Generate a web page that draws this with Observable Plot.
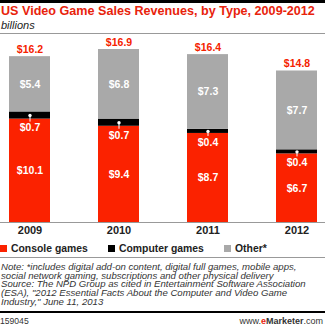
<!DOCTYPE html>
<html><head><meta charset="utf-8">
<script src="https://cdn.jsdelivr.net/npm/d3@7"></script>
<script src="https://cdn.jsdelivr.net/npm/@observablehq/plot@0.6"></script>
<style>
body{margin:0;width:325px;height:327px;position:relative;overflow:hidden;background:#fff;font-family:"Liberation Sans",Arial,sans-serif;}
.abs{position:absolute;}
#topRule{left:0;top:0;width:325px;height:3px;background:#000;}
#title{left:1px;top:4px;font-weight:bold;font-size:12.6px;color:#e8230c;white-space:nowrap;}
#sub{left:1px;top:19px;font-style:italic;font-size:11px;color:#222;}
#rule1{left:0;top:33px;width:325px;height:1px;background:#999;}
#chart{left:0;top:35px;}
#legend{left:0;top:242px;font-weight:bold;font-size:10.4px;color:#222;white-space:nowrap;}
.lg{position:absolute;top:0;display:flex;align-items:center;height:12px;}
.sw{width:7px;height:7px;margin-right:4px;}
#rule2{left:0;top:257px;width:325px;height:1px;background:#999;}
#note{left:1px;top:263px;font-style:italic;font-size:9.6px;line-height:8.7px;color:#333;white-space:pre;}
#rule3{left:0;top:311px;width:325px;height:2px;background:#000;}
#id{left:0;top:316px;font-size:8.6px;color:#333;}
#brand{right:2px;top:316px;font-size:9px;color:#333;}
</style></head><body>
<div class="abs" id="topRule"></div>
<div class="abs" id="title">US Video Game Sales Revenues, by Type, 2009-2012</div>
<div class="abs" id="sub">billions</div>
<div class="abs" id="rule1"></div>
<div class="abs" id="chart"></div>
<div class="abs" id="legend"></div>
<div class="abs" id="rule2"></div>
<div class="abs" id="note"></div>
<div class="abs" id="rule3"></div>
<div class="abs" id="id">159045</div>
<div class="abs" id="brand">www.<b style="color:#e8230c">e</b><b>Marketer</b>.com</div>
<script>
const years = ["2009", "2010", "2011", "2012"];
const consoleGames = [10.1, 9.4, 8.7, 6.7];
const computerGames = [0.7, 0.7, 0.4, 0.4];
const otherGames = [5.4, 6.8, 7.3, 7.7];
const totals = [16.2, 16.9, 16.4, 14.8];
const types = ["Console games", "Computer games", "Other*"];
const colors = ["#fb2200", "#000000", "#a9a9a9"];
const noteLines = [
  "Note: *includes digital add-on content, digital full games, mobile apps,",
  "social network gaming, subscriptions and other physical delivery",
  "Source: The NPD Group as cited in Entertainment Software Association",
  "(ESA), \"2012 Essential Facts About the Computer and Video Game",
  "Industry,\" June 11, 2013"
];

const series = [consoleGames, computerGames, otherGames];
const rows = [];
years.forEach((y, i) => types.forEach((t, j) => rows.push({year: y, type: t, value: series[j][i]})));
const comp = years.map((y, i) => ({year: y, mid: consoleGames[i] + computerGames[i] / 2, bottom: consoleGames[i], value: computerGames[i]}));
const tot = years.map((y, i) => ({year: y, total: totals[i]}));
const fmt = v => "$" + v.toFixed(1);

const plot = Plot.plot({
  width: 325, height: 205,
  marginLeft: 0, marginRight: 0, marginTop: 14, marginBottom: 18,
  x: {domain: years, paddingInner: 0.544, paddingOuter: 0.078, label: null},
  y: {domain: [0, 16.9], axis: null},
  color: {domain: types, range: colors},
  style: {fontFamily: "Liberation Sans, Arial, sans-serif", background: "transparent"},
  marks: [
    Plot.barY(rows, {x: "year", y: "value", fill: "type", order: types}),
    Plot.ruleY([0], {stroke: "#999", strokeWidth: 1}),
    Plot.axisX({tickSize: 0, tickPadding: 4, fontSize: 11, fontWeight: "bold", fill: "#222"}),
    Plot.text(rows, Plot.stackY({x: "year", y: "value", z: "type", order: types,
      text: d => d.type === "Computer games" ? "" : fmt(d.value),
      fill: "white", fontWeight: "bold", fontSize: 10.5})),
    Plot.ruleX(comp, {x: "year", y1: "mid", y2: "bottom", stroke: "white", strokeWidth: 1, insetBottom: -3}),
    Plot.dot(comp, {x: "year", y: "mid", r: 1.7, fill: "white"}),
    Plot.text(comp, {x: "year", y: "bottom", dy: 9, text: d => fmt(d.value), fill: "white", fontWeight: "bold", fontSize: 10.5}),
    Plot.text(tot, {x: "year", y: "total", dy: -7, text: d => fmt(d.total), fill: "#f52200", fontWeight: "bold", fontSize: 10.5})
  ]
});
document.getElementById("chart").appendChild(plot);

const lgX = [0, 108, 224];
const legend = document.getElementById("legend");
types.forEach((t, i) => {
  const d = document.createElement("div");
  d.className = "lg";
  d.style.left = lgX[i] + "px";
  const s = document.createElement("span");
  s.className = "sw";
  s.style.background = colors[i];
  d.appendChild(s);
  d.appendChild(document.createTextNode(t));
  legend.appendChild(d);
});
document.getElementById("note").textContent = noteLines.join("\n");
</script>
</body></html>
